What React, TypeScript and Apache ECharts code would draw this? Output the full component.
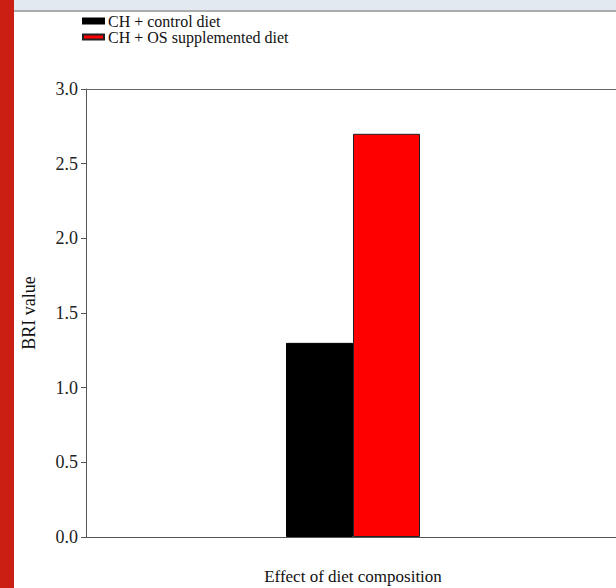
import React, { useEffect, useRef } from "react";
import * as echarts from "echarts";

const categories = ["Effect of diet composition"];
const seriesNames = ["CH + control diet", "CH + OS supplemented diet"];
const controlValues = [1.3];
const supplementedValues = [2.7];
const seriesColors = ["#000000", "#ff0000"];

export default function App() {
  const ref = useRef<HTMLDivElement>(null);
  useEffect(() => {
    if (!ref.current) return;
    const chart = echarts.init(ref.current, null, { renderer: "svg", width: 616, height: 588 });
    const font = "'Liberation Serif', 'Times New Roman', serif";
    chart.setOption({
      animation: false,
      backgroundColor: "#ffffff",
      graphic: [
        { type: "rect", left: 0, top: 0, shape: { width: 616, height: 10 }, style: { fill: "#e3e9f0" }, z: 100 },
        { type: "rect", left: 0, top: 10, shape: { width: 616, height: 2 }, style: { fill: "#a9abad" }, z: 100 },
        { type: "rect", left: 0, top: 0, shape: { width: 14, height: 588 }, style: { fill: "#cc1f14" }, z: 101 },
      ],
      legend: {
        orient: "vertical",
        left: 82,
        top: 13,
        padding: 0,
        itemGap: 0,
        itemWidth: 21,
        itemHeight: 5,
        icon: "rect",
        data: seriesNames,
        textStyle: { fontFamily: font, fontSize: 16, color: "#111", lineHeight: 16, padding: [0, 0, 0, -1] },
      },
      grid: { left: 86, right: -4, top: 89, bottom: 51, outerBoundsMode: "none", containLabel: false },
      xAxis: [
        {
          type: "category",
          data: categories,
          position: "bottom",
          name: categories[0],
          nameLocation: "middle",
          nameGap: 31,
          nameTextStyle: { fontFamily: font, fontSize: 17, color: "#111" },
          axisLabel: { show: false },
          axisTick: { show: false },
          axisLine: { lineStyle: { color: "#555", width: 1 } },
        },
        {
          type: "category",
          data: categories,
          position: "top",
          axisLabel: { show: false },
          axisTick: { show: false },
          axisLine: { show: true, lineStyle: { color: "#666", width: 1 } },
        },
      ],
      yAxis: {
        type: "value",
        min: 0,
        max: 3,
        interval: 0.5,
        name: "BRI value",
        nameLocation: "middle",
        nameGap: 48,
        nameRotate: 90,
        nameTextStyle: { fontFamily: font, fontSize: 18, color: "#111" },
        axisLine: { show: true, lineStyle: { color: "#555", width: 1 } },
        axisTick: { show: true, length: 5, lineStyle: { color: "#555" } },
        axisLabel: {
          fontFamily: font,
          fontSize: 18,
          color: "#222",
          margin: 8,
          formatter: (v: number) => v.toFixed(1),
        },
        splitLine: { show: false },
      },
      series: [
        {
          name: seriesNames[0],
          type: "bar",
          xAxisIndex: 0,
          data: controlValues,
          barWidth: 67,
          barGap: "0%",
          itemStyle: { color: seriesColors[0], borderColor: "#000", borderWidth: 1 },
        },
        {
          name: seriesNames[1],
          type: "bar",
          xAxisIndex: 0,
          data: supplementedValues,
          barWidth: 67,
          barGap: "0%",
          itemStyle: { color: seriesColors[1], borderColor: "#222", borderWidth: 1 },
        },
      ],
    });
    return () => chart.dispose();
  }, []);
  return (
    <div
      ref={ref}
      style={{ position: "fixed", left: 0, top: 0, width: 616, height: 588, background: "#fff" }}
    />
  );
}
